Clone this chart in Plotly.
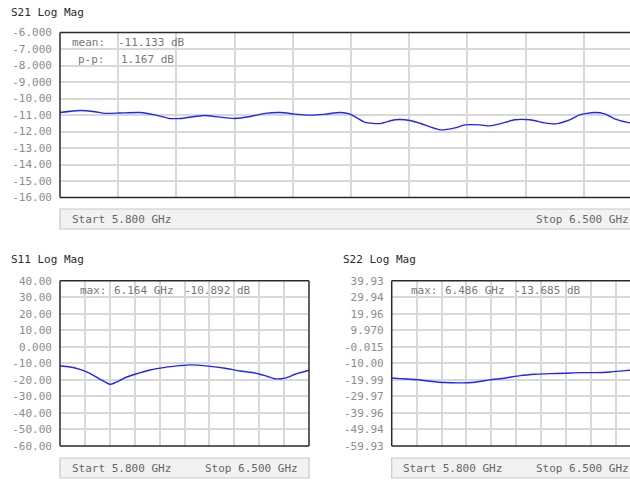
import plotly.graph_objects as go

W, H = 630, 480

# ---------------- data ----------------
s21_freq = [5.800, 5.824, 5.842, 5.854, 5.872, 5.896, 5.914, 5.932, 5.944, 5.962,
            5.974, 5.992, 6.010, 6.029, 6.047, 6.065, 6.083, 6.101, 6.119, 6.137,
            6.149, 6.167, 6.185, 6.203, 6.221, 6.233, 6.257, 6.275, 6.287, 6.305,
            6.317, 6.329, 6.347, 6.365, 6.383, 6.395, 6.413, 6.425, 6.443, 6.455,
            6.467, 6.486, 6.500]
s21_db = [-10.85, -10.73, -10.80, -10.90, -10.88, -10.85, -10.99, -11.21, -11.21, -11.09,
          -11.03, -11.13, -11.21, -11.09, -10.90, -10.85, -10.95, -11.01, -10.95, -10.85,
          -10.95, -11.45, -11.52, -11.29, -11.33, -11.50, -11.90, -11.78, -11.60, -11.60,
          -11.66, -11.54, -11.29, -11.29, -11.48, -11.54, -11.29, -10.99, -10.85, -10.93,
          -11.23, -11.48, -11.55]

s11_freq = [5.800, 5.828, 5.856, 5.884, 5.912, 5.941, 5.955, 5.983, 6.011, 6.053,
            6.095, 6.137, 6.165, 6.222, 6.264, 6.306, 6.348, 6.376, 6.404, 6.433,
            6.461, 6.500]
s11_db = [-11.6, -12.2, -13.6, -16.0, -19.5, -22.7, -21.7, -18.7, -16.6, -14.0,
          -12.4, -11.4, -10.9, -11.8, -13.0, -14.6, -15.8, -17.4, -19.3, -18.9,
          -16.6, -14.2]

s22_freq = [5.800, 5.823, 5.865, 5.908, 5.950, 5.992, 6.034, 6.076, 6.119, 6.161,
            6.203, 6.245, 6.287, 6.329, 6.372, 6.414, 6.456, 6.500]
s22_db = [-18.85, -19.2, -19.8, -20.8, -21.6, -21.8, -21.4, -20.0, -18.85, -17.4,
          -16.6, -16.2, -16.0, -15.6, -15.6, -15.2, -14.4, -13.7]

s21_ticks = [-6, -7, -8, -9, -10, -11, -12, -13, -14, -15, -16]
s21_ticktext = ["-6.000", "-7.000", "-8.000", "-9.000", "-10.00", "-11.00", "-12.00",
                "-13.00", "-14.00", "-15.00", "-16.00"]
s11_ticks = [40, 30, 20, 10, 0, -10, -20, -30, -40, -50, -60]
s11_ticktext = ["40.00", "30.00", "20.00", "10.00", "0.000", "-10.00", "-20.00",
                "-30.00", "-40.00", "-50.00", "-60.00"]
s22_ticks = [39.93, 29.944, 19.958, 9.972, -0.014, -10.0, -19.986, -29.972, -39.958, -49.944, -59.93]
s22_ticktext = ["39.93", "29.94", "19.96", "9.970", "-0.015", "-10.00", "-19.99",
                "-29.97", "-39.96", "-49.94", "-59.93"]
freq_grid = [5.80, 5.87, 5.94, 6.01, 6.08, 6.15, 6.22, 6.29, 6.36, 6.43, 6.50]


def px(x):
    return x / W


def py(y):
    return 1 - y / H


MONO = "DejaVu Sans Mono"
TICKC = "#8c8c8c"
GRIDC = "#d8d8d8"
LINEC = "#2222ff"
FRAMEC = "#2a2a2a"

fig = go.Figure()
for xs, ys, xa, ya in [(s21_freq, s21_db, "x", "y"), (s11_freq, s11_db, "x2", "y2"),
                       (s22_freq, s22_db, "x3", "y3")]:
    fig.add_trace(go.Scatter(x=xs, y=ys, mode="lines", xaxis=xa, yaxis=ya,
                             line=dict(color=LINEC, width=1.4, shape="spline", smoothing=0.6),
                             hoverinfo="skip"))


def xax(domain, rng, anchor):
    return dict(domain=domain, range=rng, anchor=anchor, tickvals=freq_grid,
                showticklabels=False, showgrid=True, gridcolor=GRIDC, gridwidth=1.5,
                zeroline=False, showline=False, ticks="", fixedrange=True,
                automargin=False)


def yax(domain, rng, anchor, tv, tt):
    return dict(domain=domain, range=rng, anchor=anchor, tickvals=tv, ticktext=tt,
                showgrid=True, gridcolor=GRIDC, gridwidth=1.5, zeroline=False,
                showline=False, ticks="", ticklabelstandoff=7, automargin=False,
                tickfont=dict(family=MONO, size=11, color=TICKC), fixedrange=True)


# pixel geometry
T_L, T_R, T_T, T_B = 60, 630, 32.5, 197.5
L_L, L_R, L_T, L_B = 60, 309, 280.7, 446
R_L, R_R, R_T, R_B = 391.7, 630, 280.7, 446

top_xmax = 5.8 + 0.7 * (T_R - T_L) / 582
right_xmax = 5.8 + 0.7 * (R_R - R_L) / 249

fig.update_layout(
    width=W, height=H, autosize=False, margin=dict(l=0, r=0, t=0, b=0, pad=0, autoexpand=False),
    paper_bgcolor="white", plot_bgcolor="white", showlegend=False,
    xaxis=xax([px(T_L), px(T_R)], [5.8, top_xmax], "y"),
    yaxis=yax([py(T_B), py(T_T)], [-16, -6], "x", s21_ticks, s21_ticktext),
    xaxis2=xax([px(L_L), px(L_R)], [5.8, 6.5], "y2"),
    yaxis2=yax([py(L_B), py(L_T)], [-60, 40], "x2", s11_ticks, s11_ticktext),
    xaxis3=xax([px(R_L), px(R_R)], [5.8, right_xmax], "y3"),
    yaxis3=yax([py(R_B), py(R_T)], [-59.93, 39.93], "x3", s22_ticks, s22_ticktext),
)

shapes = []


def frame(l, r, t, b, right=True):
    segs = [(l, t, l, b), (l, t, r, t), (l, b, r, b)]
    if right:
        segs.append((r, t, r, b))
    for x0, y0, x1, y1 in segs:
        shapes.append(dict(type="line", xref="paper", yref="paper",
                           x0=px(x0), y0=py(y0), x1=px(x1), y1=py(y1),
                           line=dict(color=FRAMEC, width=1.5)))


frame(T_L, T_R, T_T, T_B, right=False)
frame(L_L, L_R, L_T, L_B, right=True)
frame(R_L, R_R, R_T, R_B, right=False)


def footer(l, r, t, b):
    shapes.append(dict(type="rect", xref="paper", yref="paper",
                       x0=px(l), y0=py(b), x1=px(r), y1=py(t),
                       fillcolor="#f2f2f2", line=dict(color="#c8c8c8", width=1.2),
                       layer="below"))


footer(60, 636, 209, 229)
footer(60, 309, 458, 478)
footer(391.7, 636, 458, 478)
fig.update_layout(shapes=shapes)

ann = []


def text(x, y, s, color="#666666", size=11, anchor="left"):
    ann.append(dict(xref="paper", yref="paper", x=px(x), y=py(y), text=s,
                    showarrow=False, xanchor=anchor, yanchor="middle",
                    font=dict(family=MONO, size=size, color=color)))


# titles
text(9, 12, "S21 Log Mag", color="#2a2a2a")
text(9, 259, "S11 Log Mag", color="#2a2a2a")
text(341, 259, "S22 Log Mag", color="#2a2a2a")

# readouts
text(107, 42.5, "mean:", color="#777777", anchor="right")
text(116, 42.5, "-11.133 dB", color="#777777")
text(107, 59.5, "p-p:", color="#777777", anchor="right")
text(119, 59.5, "1.167 dB", color="#777777")

text(78, 290.5, "max:", color="#777777")
text(112, 290.5, "6.164 GHz", color="#777777")
text(182, 290.5, "-10.892 dB", color="#777777")

text(409, 290.5, "max:", color="#777777")
text(443, 290.5, "6.486 GHz", color="#777777")
text(512, 290.5, "-13.685 dB", color="#777777")

# footers
text(70, 219, "Start 5.800 GHz")
text(534, 219, "Stop 6.500 GHz")
text(70, 468, "Start 5.800 GHz")
text(203, 468, "Stop 6.500 GHz")
text(401, 468, "Start 5.800 GHz")
text(534, 468, "Stop 6.500 GHz")

fig.update_layout(annotations=ann)

fig.write_html("out.html", config=dict(displayModeBar=False, responsive=False),
               post_script="document.body.style.margin='0';document.body.style.overflow='hidden';")
